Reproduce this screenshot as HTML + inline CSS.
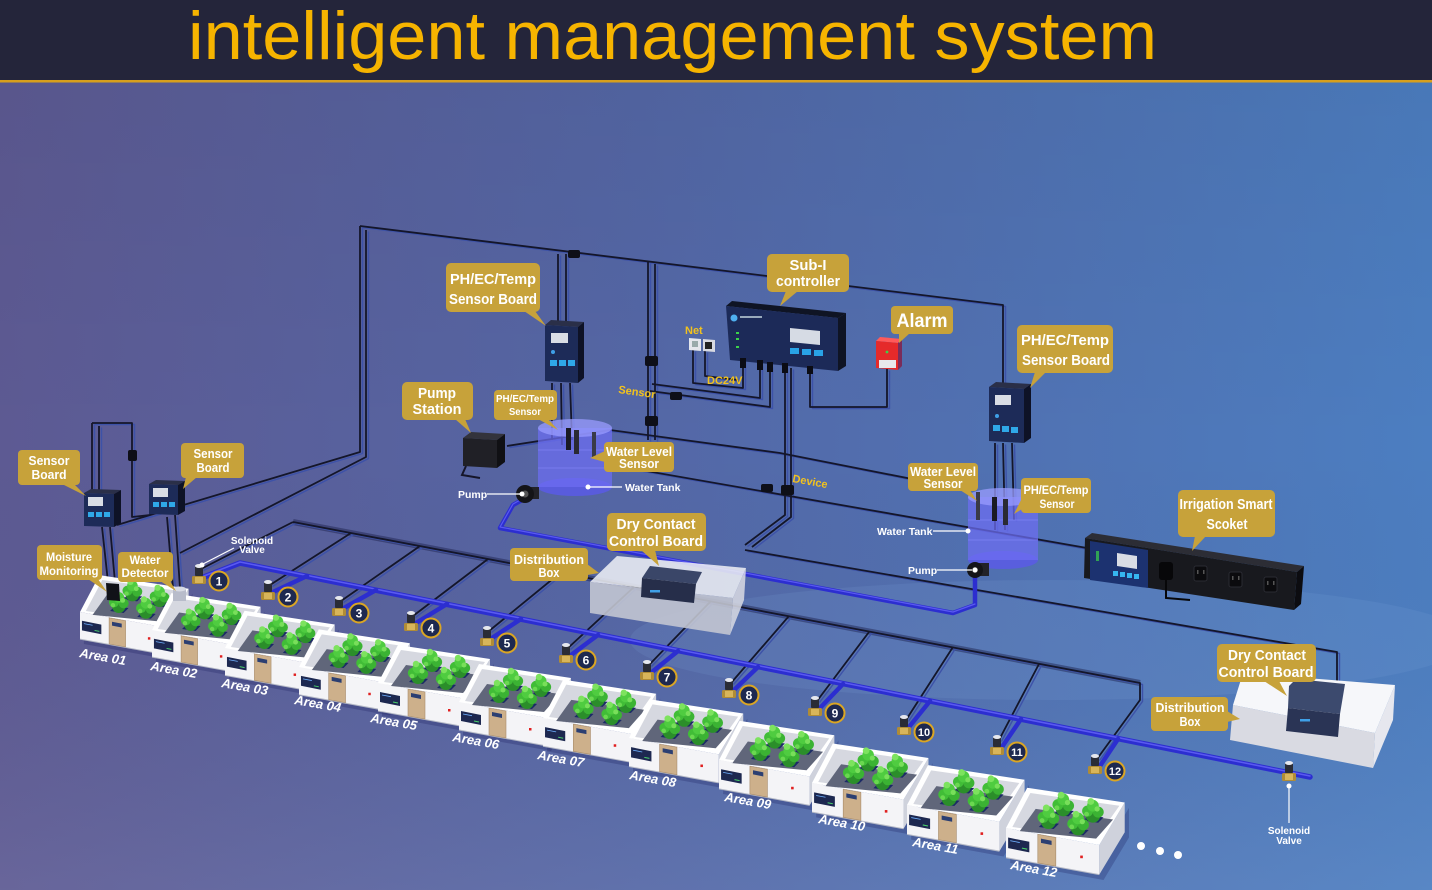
<!DOCTYPE html>
<html><head><meta charset="utf-8">
<style>
html,body{margin:0;padding:0;width:1432px;height:890px;overflow:hidden;background:#24253a}
svg{display:block}
text{font-family:"Liberation Sans",Arial,sans-serif}
.lb{fill:#fff;font-weight:bold;text-anchor:middle}
.wt{fill:#fff;font-size:10.5px;font-weight:bold}
.yt{fill:#f2c21e;font-size:11px;font-weight:bold}
.ar{fill:#fff;font-size:13px;font-weight:bold;font-style:italic}
.nm{fill:#fff;font-size:12px;font-weight:bold;text-anchor:middle}
.cal{fill:#c7a23a}
</style></head><body>
<svg width="1432" height="890" viewBox="0 0 1432 890" xmlns="http://www.w3.org/2000/svg">
<defs>
 <linearGradient id="bg" x1="0" y1="0" x2="1" y2="0">
  <stop offset="0" stop-color="#5d5a93"/>
  <stop offset="0.45" stop-color="#5467a6"/>
  <stop offset="1" stop-color="#4c7ec1"/>
 </linearGradient>
 <linearGradient id="bgv" x1="0" y1="0" x2="0" y2="1">
  <stop offset="0" stop-color="#000" stop-opacity="0.06"/>
  <stop offset="0.5" stop-color="#000" stop-opacity="0"/>
  <stop offset="1" stop-color="#fff" stop-opacity="0.07"/>
 </linearGradient>
 <g id="plant">
  <circle cx="0" cy="3" r="7" fill="#2b8e2a"/>
  <circle cx="-5" cy="-1" r="5.2" fill="#41bd37"/>
  <circle cx="5" cy="0" r="5.2" fill="#3bb333"/>
  <circle cx="0" cy="-6" r="5.5" fill="#4fcc40"/>
  <circle cx="-2" cy="-10" r="3.2" fill="#7de35e"/>
  <circle cx="4" cy="-3" r="2.5" fill="#78df5a"/>
  <circle cx="-6" cy="2" r="2.3" fill="#6ad850"/>
 </g>
 <g id="box">
  <polygon points="2,30 90,46 114,6 114,-22 90,18 2,2" fill="#1e2260" opacity="0.28" transform="translate(2,3)"/>
  <polygon points="88,16 112,-24 112,4 88,44" fill="#cfd2dc"/>
  <polygon points="0,0 88,16 88,44 0,28" fill="#f4f4f7"/>
  <line x1="0" y1="28" x2="88" y2="44" stroke="#b5b9c6" stroke-width="1"/>
  <polygon points="0,0 20,-38 112,-24 88,16" fill="#ffffff"/>
  <polygon points="6,-1 23,-33 107,-21 85,10" fill="#d6d8e0"/>
  <polygon points="13,3 28,-18 101,-8 85,10" fill="#60667a"/>
  <polygon points="45,-13 50,-18 64,-16 59,-11" fill="#1b2a66"/>
  <polygon points="73,-7 78,-12 92,-10 87,-5" fill="#1b2a66"/>
  <polygon points="31,-1 36,-6 50,-4 45,1" fill="#1b2a66"/>
  <polygon points="59,5 64,0 78,2 73,7" fill="#1b2a66"/>
  <use href="#plant" x="54" y="-21"/>
  <use href="#plant" x="82" y="-15"/>
  <use href="#plant" x="40" y="-9"/>
  <use href="#plant" x="68" y="-3"/>
  <polygon points="30,6 47,9 47,36 30,33" fill="#cdb08b" stroke="#a88c6c" stroke-width="0.6"/>
  <polygon points="33,10 43,12 43,16 33,14" fill="#2c3f72"/>
  <polygon points="2,9 22,13 22,23 2,19" fill="#1d2850"/>
  <line x1="4" y1="12" x2="13" y2="13.7" stroke="#6fb0ff" stroke-width="0.8"/>
  <line x1="15" y1="19" x2="20" y2="20" stroke="#4ad06a" stroke-width="1"/>
  <rect x="70" y="26" width="2.5" height="2.5" fill="#e02020"/>
 </g>
 <g id="valve">
  <rect x="-7" y="-3" width="14" height="8" rx="1.5" fill="#b08c36"/>
  <rect x="-4" y="-2" width="8" height="6" fill="#d8b55a"/>
  <rect x="-4" y="-13" width="8" height="10" rx="1" fill="#2a2c36"/>
  <ellipse cx="0" cy="-13" rx="4" ry="2" fill="#e6e8ee"/>
 </g>
 <g id="net">
  <path d="M360,226 L1003,305 L1003,385"/>
  <path d="M360,226 L360,452 L117,525"/>
  <path d="M366,230 L366,457 L180,553"/>
  <path d="M558,254 L558,323 M566,254 L566,323"/>
  <path d="M648,262 L648,440 M655,264 L655,440"/>
  <path d="M650,391 L770,407 L770,366"/>
  <path d="M652,384 L760,398 L760,364"/>
  <path d="M507,446 L610,430 L780,453 L968,490"/>
  <path d="M612,465 L1087,548"/>
  <path d="M745,550 L1337,652 L1337,690"/>
  <path d="M743,360 L743,388 L693,383 L693,350"/>
  <path d="M705,351 L705,376 L738,380"/>
  <path d="M785,367 L785,515 L745,545"/>
  <path d="M791,368 L791,517 L752,547"/>
  <path d="M810,370 L810,407 L887,407 L887,369"/>
  <path d="M92,423 L92,490 M99,426 L99,490 M92,423 L132,423 L132,517 L150,515"/>
  <path d="M102,527 L108,582 M110,527 L115,582"/>
  <path d="M167,517 L173,588 M175,515 L180,588"/>
  <path d="M995,443 L995,530 M1003,443 L1005,530 M1012,443 L1014,520"/>
  <path d="M552,383 L552,440 M561,383 L562,445 M570,383 L572,440"/>
  <path d="M293,522 L1140,683 L1140,700 L1097,759"/>
  <path d="M201,569 L293,522 M270,585 L351,533 M341,601 L420,546 M413,616 L488,559 M489,631 L560,573 M568,648 L634,587 M649,665 L711,601 M731,683 L789,616 M817,701 L869,632 M906,720 L953,647 M999,740 L1039,664"/>
 </g>
</defs>

<!-- background -->
<rect x="0" y="0" width="1432" height="890" fill="url(#bg)"/>
<rect x="0" y="0" width="1432" height="890" fill="url(#bgv)"/>
<ellipse cx="1050" cy="640" rx="420" ry="60" fill="#8fb4e8" opacity="0.12"/>

<!-- header -->
<rect x="0" y="0" width="1432" height="80" fill="#24253a"/>
<rect x="0" y="80" width="1432" height="2.5" fill="#d79f1c"/>
<text x="188" y="59" font-size="68" fill="#f6b400" textLength="969" lengthAdjust="spacingAndGlyphs">intelligent management system</text>

<!-- cable network -->
<path d="M293,522 L1140,683" stroke="#1a1f4a" stroke-width="6" opacity="0.45" fill="none"/>
<use href="#net" transform="translate(2.5,1.5)" stroke="#3d52a8" stroke-width="1.4" fill="none" stroke-linejoin="round"/>
<use href="#net" stroke="#14162a" stroke-width="1.8" fill="none" stroke-linejoin="round"/>
<g fill="#0e0f18">
 <rect x="568" y="250" width="12" height="8" rx="2"/>
 <rect x="645" y="356" width="13" height="10" rx="2"/>
 <rect x="645" y="416" width="13" height="10" rx="2"/>
 <rect x="670" y="392" width="12" height="8" rx="2"/>
 <rect x="781" y="485" width="13" height="10" rx="2"/>
 <rect x="761" y="484" width="12" height="8" rx="2"/>
 <rect x="128" y="450" width="9" height="11" rx="2"/>
</g>

<!-- blue pipes -->
<g fill="none" stroke-linejoin="round" stroke-linecap="round">
 <path d="M204,577 L240,563 L1310,777" stroke="#2c2ed0" stroke-width="5.5"/>
 <path d="M204,576 L240,562 L1310,776" stroke="#5a5af0" stroke-width="1.5"/>
 <path d="M522,500 L513,505 L500,528 L953,613 L975,605 L975,578" stroke="#2c2ed0" stroke-width="4.5"/>
 <path d="M522,499 L513,504 L500,527 L953,612 L975,604" stroke="#5a5af0" stroke-width="1.2"/>
 <path d="M273,592 L307,576 M344,608 L376,590 M416,623 L447,604 M492,638 L521,619 M571,655 L598,635 M652,672 L678,651 M734,690 L758,667 M820,708 L843,684 M909,727 L930,701 M1002,747 L1021,719 M1100,766 L1118,739" stroke="#2c2ed0" stroke-width="4.5"/>
</g>

<!-- middle distribution box -->
<g opacity="0.88">
 <polygon points="590,582 733,598 730,635 590,613" fill="#c5c8d3"/>
 <polygon points="733,598 746,568 744,600 730,635" fill="#d6d8e2"/>
 <polygon points="590,582 617,556 746,568 733,598" fill="#eceef4"/>
</g>
<polygon points="642,578 650,566 702,572 696,584" fill="#3a4668"/>
<polygon points="642,578 696,584 694,603 641,597" fill="#262e4a"/>
<rect x="650" y="590" width="10" height="2.5" fill="#3fa0e8"/>

<!-- right distribution box -->
<polygon points="1233,705 1375,733 1373,768 1230,740" fill="#d9dae2"/>
<polygon points="1375,733 1395,685 1393,720 1373,768" fill="#e6e7ee"/>
<polygon points="1233,705 1243,673 1395,685 1375,733" fill="#f6f7fa"/>
<polygon points="1289,686 1296,679 1345,684 1340,714 1288,708" fill="#3c4a6e"/>
<polygon points="1288,708 1340,714 1338,737 1286,731" fill="#2a3455"/>
<rect x="1300" y="719" width="10" height="2.5" fill="#3fa0e8"/>

<!-- sensor boards top-left -->
<polygon points="84,493 91,489 121,490 114,494" fill="#2a2f48"/>
<polygon points="114,494 121,490 121,523 114,527" fill="#0e1226"/>
<polygon points="84,493 114,494 114,527 84,526" fill="#1d2b58"/>
<rect x="88" y="497" width="15" height="9" fill="#d9dde5"/>
<rect x="88" y="512" width="6" height="5" fill="#2fa8e8"/><rect x="96" y="512" width="6" height="5" fill="#2fa8e8"/><rect x="104" y="512" width="6" height="5" fill="#2fa8e8"/>
<polygon points="149,484 156,480 185,481 178,485" fill="#2a2f48"/>
<polygon points="178,485 185,481 185,511 178,515" fill="#0e1226"/>
<polygon points="149,484 178,485 178,515 149,514" fill="#1d2b58"/>
<rect x="153" y="488" width="15" height="9" fill="#d9dde5"/>
<rect x="153" y="502" width="6" height="5" fill="#2fa8e8"/><rect x="161" y="502" width="6" height="5" fill="#2fa8e8"/><rect x="169" y="502" width="6" height="5" fill="#2fa8e8"/>

<!-- left PH board -->
<polygon points="545,325 551,320 584,322 578,327" fill="#2a2f48"/>
<polygon points="578,327 584,322 584,378 578,383" fill="#0e1226"/>
<polygon points="545,325 578,327 578,383 545,381" fill="#1d2b58"/>
<rect x="551" y="333" width="17" height="10" fill="#d9dde5"/>
<rect x="550" y="360" width="7" height="6" fill="#2fa8e8"/><rect x="559" y="360" width="7" height="6" fill="#2fa8e8"/><rect x="568" y="360" width="7" height="6" fill="#2fa8e8"/>
<circle cx="553" cy="352" r="2" fill="#3fa0e8"/>

<!-- pump station -->
<polygon points="463,438 471,432 505,434 497,440" fill="#33333c"/>
<polygon points="497,440 505,434 505,462 497,468" fill="#101014"/>
<polygon points="463,438 497,440 497,468 463,466" fill="#202026"/>
<path d="M466,466 L462,475 L480,478" stroke="#15162a" stroke-width="2" fill="none"/>

<!-- left tank -->
<ellipse cx="575" cy="487" rx="37" ry="9" fill="#5a5ae6" opacity="0.85"/>
<rect x="538" y="428" width="74" height="59" fill="#6d6ef2" opacity="0.72"/>
<ellipse cx="575" cy="428" rx="37" ry="9" fill="#9a9cff" opacity="0.75"/>
<line x1="538" y1="450" x2="612" y2="450" stroke="#8a8cff" stroke-width="1" opacity="0.5"/>
<line x1="538" y1="468" x2="612" y2="468" stroke="#8a8cff" stroke-width="1" opacity="0.5"/>
<rect x="566" y="428" width="5" height="22" fill="#1a1a24"/>
<rect x="574" y="430" width="5" height="24" fill="#2a2a34"/>
<rect x="592" y="432" width="4" height="26" fill="#3a3a48"/>
<!-- left pump -->
<rect x="525" y="487" width="14" height="12" fill="#222228"/>
<circle cx="525" cy="494" r="9" fill="#141418"/>
<circle cx="525" cy="494" r="3.5" fill="#555"/>

<!-- controller -->
<polygon points="726,306 732,301 846,313 838,318" fill="#0f1424"/>
<polygon points="838,318 846,313 846,366 838,371" fill="#0f1424"/>
<polygon points="726,306 838,318 838,371 730,360" fill="#1c2a58"/>
<circle cx="734" cy="318" r="3.5" fill="#4fb0f0"/>
<rect x="740" y="316" width="22" height="2" fill="#9ab"/>
<polygon points="790,328 820,331 820,345 790,342" fill="#d6dbe4"/>
<rect x="790" y="348" width="9" height="6" fill="#29a3e6"/><rect x="802" y="349" width="9" height="6" fill="#29a3e6"/><rect x="814" y="350" width="9" height="6" fill="#29a3e6"/>
<rect x="736" y="332" width="3" height="2" fill="#3bd24a"/><rect x="736" y="338" width="3" height="2" fill="#3bd24a"/><rect x="736" y="346" width="3" height="2" fill="#3bd24a"/>
<g fill="#0b0c14"><rect x="740" y="358" width="6" height="10"/><rect x="757" y="360" width="6" height="10"/><rect x="767" y="362" width="6" height="10"/><rect x="782" y="363" width="6" height="10"/><rect x="807" y="366" width="6" height="8"/></g>
<!-- net socket -->
<polygon points="689,338 701,339 701,351 689,350" fill="#e4e6ec"/>
<polygon points="703,339 715,340 715,352 703,351" fill="#d8dae2"/>
<rect x="705" y="342" width="7" height="7" fill="#222"/>
<rect x="692" y="341" width="6" height="6" fill="#9aa"/>

<!-- alarm -->
<polygon points="876,341 880,337 902,339 898,343" fill="#ff5a5a"/>
<polygon points="898,343 902,339 902,366 898,370" fill="#7a2c5a"/>
<polygon points="876,341 898,343 898,370 876,368" fill="#e52a2a"/>
<rect x="879" y="360" width="17" height="8" fill="#e8e8ec"/>
<circle cx="887" cy="352" r="1.4" fill="#3bd24a"/>

<!-- right PH board -->
<polygon points="989,387 996,382 1031,384 1024,389" fill="#2a2f48"/>
<polygon points="1024,389 1031,384 1031,438 1024,443" fill="#0e1226"/>
<polygon points="989,387 1024,389 1024,443 989,441" fill="#1d2b58"/>
<rect x="995" y="395" width="16" height="10" fill="#d9dde5"/>
<rect x="993" y="425" width="7" height="6" fill="#2fa8e8"/><rect x="1002" y="426" width="7" height="6" fill="#2fa8e8"/><rect x="1011" y="427" width="7" height="6" fill="#2fa8e8"/>
<circle cx="997" cy="416" r="2" fill="#3fa0e8"/>

<!-- right tank -->
<ellipse cx="1003" cy="560" rx="35" ry="9" fill="#5a5ae6" opacity="0.85"/>
<rect x="968" y="497" width="70" height="63" fill="#6d6ef2" opacity="0.72"/>
<ellipse cx="1003" cy="497" rx="35" ry="9" fill="#9a9cff" opacity="0.75"/>
<line x1="968" y1="520" x2="1038" y2="520" stroke="#8a8cff" stroke-width="1" opacity="0.5"/>
<line x1="968" y1="540" x2="1038" y2="540" stroke="#8a8cff" stroke-width="1" opacity="0.5"/>
<rect x="992" y="497" width="5" height="24" fill="#1a1a24"/>
<rect x="1003" y="499" width="5" height="26" fill="#2a2a34"/>
<rect x="976" y="492" width="4" height="28" fill="#3a3a48"/>
<!-- right pump -->
<rect x="975" y="563" width="14" height="13" fill="#222228"/>
<circle cx="975" cy="570" r="8" fill="#141418"/>
<circle cx="975" cy="570" r="3" fill="#555"/>

<!-- socket strip -->
<polygon points="1085,538 1092,533 1304,566 1297,572" fill="#2c2d35"/>
<polygon points="1085,538 1297,572 1294,610 1084,578" fill="#18191e"/>
<polygon points="1297,572 1304,566 1301,604 1294,610" fill="#0c0c10"/>
<polygon points="1090,541 1148,550 1148,588 1090,580" fill="#1c3270"/>
<polygon points="1117,553 1137,556 1137,569 1117,566" fill="#d9dde5"/>
<g fill="#36b6f0"><rect x="1113" y="571" width="5" height="5"/><rect x="1120" y="572" width="5" height="5"/><rect x="1127" y="573" width="5" height="5"/><rect x="1134" y="574" width="5" height="5"/></g>
<rect x="1096" y="551" width="3" height="10" fill="#3bd24a" opacity="0.7"/>
<rect x="1159" y="562" width="14" height="18" rx="3" fill="#070709"/>
<path d="M1166,580 L1166,598 L1190,600" stroke="#070709" stroke-width="2" fill="none"/>
<g fill="#0b0b0e" stroke="#2a2b33" stroke-width="1"><rect x="1194" y="566" width="13" height="15" rx="2"/><rect x="1229" y="572" width="13" height="15" rx="2"/><rect x="1264" y="577" width="13" height="15" rx="2"/></g>
<g fill="#555"><rect x="1197" y="570" width="1.5" height="4"/><rect x="1203" y="570" width="1.5" height="4"/><rect x="1232" y="576" width="1.5" height="4"/><rect x="1238" y="576" width="1.5" height="4"/><rect x="1267" y="581" width="1.5" height="4"/><rect x="1273" y="581" width="1.5" height="4"/></g>

<!-- valves -->
<use href="#valve" x="199" y="579"/>
<use href="#valve" x="268" y="595"/>
<use href="#valve" x="339" y="611"/>
<use href="#valve" x="411" y="626"/>
<use href="#valve" x="487" y="641"/>
<use href="#valve" x="566" y="658"/>
<use href="#valve" x="647" y="675"/>
<use href="#valve" x="729" y="693"/>
<use href="#valve" x="815" y="711"/>
<use href="#valve" x="904" y="730"/>
<use href="#valve" x="997" y="750"/>
<use href="#valve" x="1095" y="769"/>
<use href="#valve" x="1289" y="776"/>
<g fill="#1e2950" stroke="#dba623" stroke-width="2">
 <circle cx="219" cy="581" r="9.5"/><circle cx="288" cy="597" r="9.5"/><circle cx="359" cy="613" r="9.5"/>
 <circle cx="431" cy="628" r="9.5"/><circle cx="507" cy="643" r="9.5"/><circle cx="586" cy="660" r="9.5"/>
 <circle cx="667" cy="677" r="9.5"/><circle cx="749" cy="695" r="9.5"/><circle cx="835" cy="713" r="9.5"/>
 <circle cx="924" cy="732" r="9.5"/><circle cx="1017" cy="752" r="9.5"/><circle cx="1115" cy="771" r="9.5"/>
</g>
<g class="nm">
 <text x="219" y="585.5">1</text><text x="288" y="601.5">2</text><text x="359" y="617.5">3</text>
 <text x="431" y="632.5">4</text><text x="507" y="647.5">5</text><text x="586" y="664.5">6</text>
 <text x="667" y="681.5">7</text><text x="749" y="699.5">8</text><text x="835" y="717.5">9</text>
 <text x="924" y="736" font-size="11">10</text><text x="1017" y="756" font-size="11">11</text><text x="1115" y="775" font-size="11">12</text>
</g>

<!-- area boxes -->
<use href="#box" transform="translate(80,612) scale(0.97)"/>
<use href="#box" transform="translate(152,630) scale(0.97)"/>
<use href="#box" transform="translate(225,648) scale(0.98)"/>
<use href="#box" transform="translate(299,667) scale(0.99)"/>
<use href="#box" transform="translate(378,683) scale(1.0)"/>
<use href="#box" transform="translate(459,702) scale(1.0)"/>
<use href="#box" transform="translate(543,718) scale(1.01)"/>
<use href="#box" transform="translate(629,738) scale(1.02)"/>
<use href="#box" transform="translate(719,760) scale(1.03)"/>
<use href="#box" transform="translate(812,783) scale(1.04)"/>
<use href="#box" transform="translate(907,805) scale(1.05)"/>
<use href="#box" transform="translate(1006,828) scale(1.06)"/>
<!-- sensors on box 1 -->
<polygon points="106,583 119,584 120,601 107,600" fill="#111218"/>
<rect x="173" y="589" width="13" height="12" fill="#b8bcca"/>
<ellipse cx="179.5" cy="589" rx="6.5" ry="2.5" fill="#d8dbe4"/>

<!-- area labels -->
<g class="ar">
 <text transform="translate(79,657) rotate(10)">Area 01</text>
 <text transform="translate(150,670) rotate(10)">Area 02</text>
 <text transform="translate(221,687) rotate(10)">Area 03</text>
 <text transform="translate(294,704) rotate(10)">Area 04</text>
 <text transform="translate(370,722) rotate(10)">Area 05</text>
 <text transform="translate(452,741) rotate(10)">Area 06</text>
 <text transform="translate(537,759) rotate(10)">Area 07</text>
 <text transform="translate(629,779) rotate(10)">Area 08</text>
 <text transform="translate(724,801) rotate(10)">Area 09</text>
 <text transform="translate(818,823) rotate(10)">Area 10</text>
 <text transform="translate(912,846) rotate(10)">Area 11</text>
 <text transform="translate(1010,869) rotate(10)">Area 12</text>
</g>

<!-- callouts -->
<g class="cal">
 <rect x="18" y="450" width="62" height="35" rx="4"/><polygon points="62,484 74,484 86,496"/>
 <rect x="181" y="443" width="63" height="35" rx="4"/><polygon points="186,477 197,477 183,489"/>
 <rect x="37" y="545" width="65" height="35" rx="4"/><polygon points="88,579 98,579 107,592"/>
 <rect x="118" y="552" width="55" height="30" rx="4"/><polygon points="160,581 170,581 176,591"/>
 <rect x="446" y="263" width="94" height="49" rx="5"/><polygon points="524,311 535,311 546,326"/>
 <rect x="402" y="382" width="71" height="38" rx="5"/><polygon points="455,419 465,419 471,433"/>
 <rect x="494" y="390" width="63" height="30" rx="4"/><polygon points="538,419 548,419 558,430"/>
 <rect x="604" y="442" width="70" height="30" rx="4"/><polygon points="605,451 605,462 590,458"/>
 <rect x="607" y="513" width="99" height="38" rx="5"/><polygon points="641,550 655,550 659,566"/>
 <rect x="510" y="548" width="78" height="33" rx="4"/><polygon points="587,564 587,575 599,573"/>
 <rect x="767" y="254" width="82" height="38" rx="5"/><polygon points="786,291 798,291 780,306"/>
 <rect x="891" y="306" width="62" height="28" rx="4"/><polygon points="899,333 910,333 899,343"/>
 <rect x="1017" y="325" width="96" height="48" rx="5"/><polygon points="1035,372 1046,372 1030,388"/>
 <rect x="908" y="463" width="70" height="28" rx="4"/><polygon points="960,490 970,490 977,501"/>
 <rect x="1021" y="478" width="70" height="35" rx="4"/><polygon points="1022,498 1022,509 1014,514"/>
 <rect x="1178" y="490" width="97" height="47" rx="5"/><polygon points="1195,536 1206,536 1192,551"/>
 <rect x="1217" y="644" width="99" height="38" rx="5"/><polygon points="1264,681 1279,681 1287,696"/>
 <rect x="1151" y="697" width="77" height="34" rx="4"/><polygon points="1227,711 1227,722 1240,719"/>
</g>
<g class="lb">
 <text x="49" y="465" font-size="13" textLength="41" lengthAdjust="spacingAndGlyphs">Sensor</text>
 <text x="49" y="479" font-size="13" textLength="35" lengthAdjust="spacingAndGlyphs">Board</text>
 <text x="213" y="458" font-size="13" textLength="39" lengthAdjust="spacingAndGlyphs">Sensor</text>
 <text x="213" y="472" font-size="13" textLength="33" lengthAdjust="spacingAndGlyphs">Board</text>
 <text x="69" y="561" font-size="11.5" textLength="46" lengthAdjust="spacingAndGlyphs">Moisture</text>
 <text x="69" y="575" font-size="11.5" textLength="59" lengthAdjust="spacingAndGlyphs">Monitoring</text>
 <text x="145" y="564" font-size="11.5" textLength="31" lengthAdjust="spacingAndGlyphs">Water</text>
 <text x="145" y="577" font-size="11.5" textLength="47" lengthAdjust="spacingAndGlyphs">Detector</text>
 <text x="493" y="284" font-size="15" textLength="86" lengthAdjust="spacingAndGlyphs">PH/EC/Temp</text>
 <text x="493" y="304" font-size="15" textLength="88" lengthAdjust="spacingAndGlyphs">Sensor Board</text>
 <text x="437" y="398" font-size="15" textLength="38" lengthAdjust="spacingAndGlyphs">Pump</text>
 <text x="437" y="414" font-size="15" textLength="49" lengthAdjust="spacingAndGlyphs">Station</text>
 <text x="525" y="402" font-size="10.5" textLength="58" lengthAdjust="spacingAndGlyphs">PH/EC/Temp</text>
 <text x="525" y="415" font-size="10.5" textLength="32" lengthAdjust="spacingAndGlyphs">Sensor</text>
 <text x="639" y="456" font-size="12.5" textLength="66" lengthAdjust="spacingAndGlyphs">Water Level</text>
 <text x="639" y="468" font-size="12.5" textLength="40" lengthAdjust="spacingAndGlyphs">Sensor</text>
 <text x="656" y="529" font-size="14.5" textLength="79" lengthAdjust="spacingAndGlyphs">Dry Contact</text>
 <text x="656" y="546" font-size="14.5" textLength="94" lengthAdjust="spacingAndGlyphs">Control Board</text>
 <text x="549" y="564" font-size="12.5" textLength="70" lengthAdjust="spacingAndGlyphs">Distribution</text>
 <text x="549" y="577" font-size="12.5" textLength="21" lengthAdjust="spacingAndGlyphs">Box</text>
 <text x="808" y="270" font-size="15" textLength="37" lengthAdjust="spacingAndGlyphs">Sub-I</text>
 <text x="808" y="286" font-size="15" textLength="64" lengthAdjust="spacingAndGlyphs">controller</text>
 <text x="922" y="327" font-size="19" textLength="51" lengthAdjust="spacingAndGlyphs">Alarm</text>
 <text x="1065" y="345" font-size="15" textLength="88" lengthAdjust="spacingAndGlyphs">PH/EC/Temp</text>
 <text x="1066" y="365" font-size="15" textLength="88" lengthAdjust="spacingAndGlyphs">Sensor Board</text>
 <text x="943" y="476" font-size="12.5" textLength="66" lengthAdjust="spacingAndGlyphs">Water Level</text>
 <text x="943" y="488" font-size="12.5" textLength="39" lengthAdjust="spacingAndGlyphs">Sensor</text>
 <text x="1056" y="494" font-size="11.5" textLength="65" lengthAdjust="spacingAndGlyphs">PH/EC/Temp</text>
 <text x="1057" y="508" font-size="11.5" textLength="35" lengthAdjust="spacingAndGlyphs">Sensor</text>
 <text x="1226" y="509" font-size="14.5" textLength="93" lengthAdjust="spacingAndGlyphs">Irrigation Smart</text>
 <text x="1227" y="529" font-size="14.5" textLength="41" lengthAdjust="spacingAndGlyphs">Scoket</text>
 <text x="1267" y="660" font-size="14.5" textLength="78" lengthAdjust="spacingAndGlyphs">Dry Contact</text>
 <text x="1266" y="677" font-size="14.5" textLength="95" lengthAdjust="spacingAndGlyphs">Control Board</text>
 <text x="1190" y="712" font-size="12.5" textLength="69" lengthAdjust="spacingAndGlyphs">Distribution</text>
 <text x="1190" y="726" font-size="12.5" textLength="21" lengthAdjust="spacingAndGlyphs">Box</text>
</g>

<!-- yellow plain text -->
<text class="yt" x="685" y="334">Net</text>
<text class="yt" x="707" y="384">DC24V</text>
<text class="yt" transform="translate(618,393) rotate(8)">Sensor</text>
<text class="yt" transform="translate(792,482) rotate(10)">Device</text>

<!-- white pointer labels -->
<g stroke="#fff" stroke-width="1.2">
 <line x1="203" y1="564" x2="234" y2="548"/>
 <line x1="487" y1="494" x2="521" y2="494"/>
 <line x1="590" y1="487" x2="622" y2="487"/>
 <line x1="933" y1="531" x2="966" y2="531"/>
 <line x1="937" y1="570" x2="972" y2="570"/>
 <line x1="1289" y1="788" x2="1289" y2="823"/>
</g>
<g fill="#fff">
 <circle cx="202" cy="565" r="2.5"/><circle cx="522" cy="494" r="2.5"/><circle cx="588" cy="487" r="2.5"/>
 <circle cx="968" cy="531" r="2.5"/><circle cx="975" cy="570" r="2.5"/><circle cx="1289" cy="786" r="2.5"/>
 <circle cx="1141" cy="846" r="4"/><circle cx="1160" cy="851" r="4"/><circle cx="1178" cy="855" r="4"/>
</g>
<g class="wt">
 <text x="252" y="544" text-anchor="middle" font-size="10">Solenoid</text>
 <text x="252" y="553" text-anchor="middle" font-size="10">Valve</text>
 <text x="458" y="498">Pump</text>
 <text x="625" y="491">Water Tank</text>
 <text x="877" y="535">Water Tank</text>
 <text x="908" y="574">Pump</text>
 <text x="1289" y="834" text-anchor="middle" font-size="10">Solenoid</text>
 <text x="1289" y="844" text-anchor="middle" font-size="10">Valve</text>
</g>
</svg>
</body></html>
